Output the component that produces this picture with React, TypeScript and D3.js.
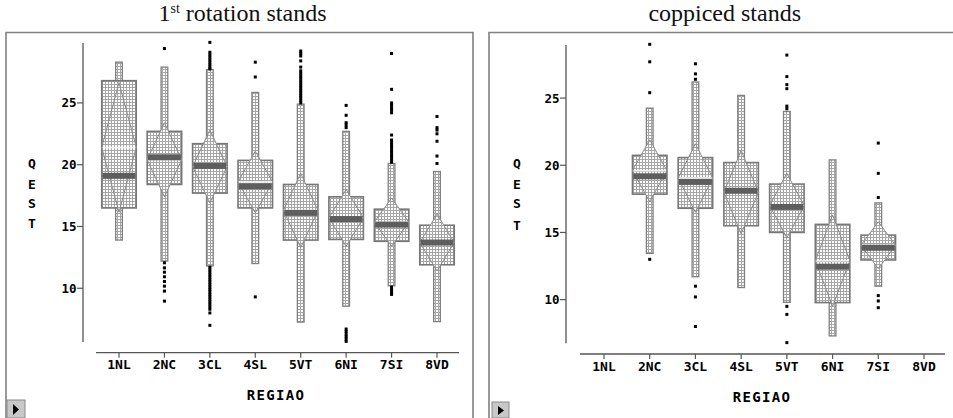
import React from "react";
import * as d3 from "d3";

// ---------- data ----------
const categories = ["1NL", "2NC", "3CL", "4SL", "5VT", "6NI", "7SI", "8VD"];
const yTicks = [10, 15, 20, 25];

// 1st rotation stands
const rotWhiskerLow = [13.9, 12.2, 11.8, 12.0, 7.26, 8.55, 10.2, 7.3];
const rotQ1 = [16.5, 18.4, 17.7, 16.5, 13.9, 13.95, 13.8, 11.9];
const rotMedian = [19.1, 20.6, 19.9, 18.25, 16.1, 15.6, 15.15, 13.7];
const rotQ3 = [26.8, 22.7, 21.7, 20.35, 18.4, 17.4, 16.4, 15.1];
const rotWhiskerHigh = [28.3, 27.9, 27.7, 25.85, 24.9, 22.7, 20.1, 19.45];
const rotMean = [21.4, 20.4, 19.85, 18.6, 16.3, 15.7, 15.35, 13.7];
const rotDiamondHalf = [5.25, 3.0, 2.95, 2.5, 3.0, 2.3, 1.95, 2.3];
const rotOutliers: number[][] = [
  [],
  [29.4, 12.06, 11.65, 11.3, 10.93, 10.55, 10.17, 9.77, 8.96],
  [29.9, 29.1, 28.9, 28.7, 28.5, 28.3, 28.1, 27.9, 27.75,
   11.7, 11.5, 11.3, 11.1, 10.9, 10.7, 10.5, 10.3, 10.1, 9.9, 9.7, 9.5, 9.3, 9.1, 8.9, 8.7, 8.5, 8.3, 8.0, 7.0],
  [28.3, 27.1, 9.3],
  [29.2, 29.0, 28.8, 28.4, 27.9, 27.6, 27.4, 27.2, 27.0, 26.8, 26.6, 26.4, 26.2, 26.0, 25.8, 25.6, 25.4, 25.2, 25.0],
  [24.8, 24.0, 23.4, 23.2, 23.0, 6.7, 6.5, 6.3, 6.1, 5.9, 5.7],
  [29.0, 26.1, 25.0, 24.8, 24.6, 24.4, 24.2, 22.4, 22.0, 21.8, 21.6, 21.4, 21.2, 21.0, 20.8, 20.6, 20.4, 20.2,
   10.1, 9.9, 9.7, 9.5],
  [23.9, 23.0, 22.8, 22.5, 21.9, 20.7, 20.1],
];

// coppiced stands
const copWhiskerLow = [null, 13.44, 11.7, 10.9, 9.8, 7.3, 11.0, null];
const copQ1 = [null, 17.85, 16.8, 15.5, 15.0, 9.78, 12.95, null];
const copMedian = [null, 19.18, 18.76, 18.1, 16.9, 12.45, 13.86, null];
const copQ3 = [null, 20.74, 20.57, 20.2, 18.6, 15.6, 14.8, null];
const copWhiskerHigh = [null, 24.25, 26.2, 25.2, 24.0, 20.4, 17.2, null];
const copMean = [null, 19.6, 19.05, 18.0, 17.0, 12.9, 14.05, null];
const copDiamondHalf = [null, 2.3, 2.55, 3.1, 2.4, 3.4, 1.75, null];
const copOutliers: number[][] = [
  [],
  [29.0, 27.7, 25.4, 13.0],
  [27.55, 26.8, 26.4, 11.0, 10.2, 8.0],
  [],
  [28.2, 26.6, 26.0, 25.7, 24.4, 24.2, 9.5, 8.9, 6.8],
  [],
  [21.65, 19.4, 17.6, 10.3, 9.9, 9.4],
  [],
];

const yLabel = ["Q", "E", "S", "T"];
const xTitle = "REGIAO";

// ---------- layout ----------
type Series = {
  lo: (number | null)[]; q1: (number | null)[]; med: (number | null)[]; q3: (number | null)[];
  hi: (number | null)[]; mean: (number | null)[]; half: (number | null)[]; out: number[][];
};

const panels = [
  {
    key: "rot",
    border: { x1: 6, x2: 473, y: 32.5 },
    yDomain: [5.65, 29.85], yRange: [342, 43],
    xRange: [119, 437], xAxis: { x1: 96, x2: 459, y: 352.7 },
    yAxisX: 83, qestX: 32, qestY: [163, 184, 203, 223],
    regiao: { x: 276, y: 400 }, xLabY: 369,
    button: { x: 7, y: 400, w: 18, h: 18 },
    data: { lo: rotWhiskerLow, q1: rotQ1, med: rotMedian, q3: rotQ3, hi: rotWhiskerHigh, mean: rotMean, half: rotDiamondHalf, out: rotOutliers } as Series,
  },
  {
    key: "cop",
    border: { x1: 489, x2: 970, y: 32.5 },
    yDomain: [6.75, 28.95], yRange: [343.3, 45],
    xRange: [604, 924], xAxis: { x1: 580, x2: 945, y: 354 },
    yAxisX: 566, qestX: 517, qestY: [163, 184, 203, 225],
    regiao: { x: 762, y: 401.5 }, xLabY: 370.5,
    button: { x: 492, y: 402, w: 17, h: 16 },
    data: { lo: copWhiskerLow, q1: copQ1, med: copMedian, q3: copQ3, hi: copWhiskerHigh, mean: copMean, half: copDiamondHalf, out: copOutliers } as Series,
  },
];

const MONO = "'DejaVu Sans Mono', monospace";
const BOX_W = 34.5;
const WH_W = 6.7;

function Panel({ p }: { p: (typeof panels)[number] }) {
  const x = d3.scalePoint<string>().domain(categories).range(p.xRange as [number, number]);
  const y = d3.scaleLinear().domain(p.yDomain).range(p.yRange);
  const d = p.data;
  return (
    <g>
      <path
        d={`M${p.border.x1},430 V${p.border.y} H${p.border.x2} V430`}
        fill="none" stroke="#808080" strokeWidth={1.6}
      />
      <line x1={p.yAxisX} x2={p.yAxisX} y1={p.yRange[1]} y2={p.yRange[0]} stroke="#555" strokeWidth={1.3} />
      {yTicks.map((t) => (
        <g key={t}>
          <line x1={p.yAxisX - 6} x2={p.yAxisX} y1={y(t)} y2={y(t)} stroke="#555" strokeWidth={1.2} />
          <text x={p.yAxisX - 6.5} y={y(t)} dy="0.36em" textAnchor="end" fontFamily={MONO} fontWeight="bold" fontSize={12.5} fill="#000">
            {t}
          </text>
        </g>
      ))}
      {yLabel.map((c, i) => (
        <text key={c} x={p.qestX} y={p.qestY[i]} dy="0.36em" textAnchor="middle" fontFamily={MONO} fontWeight="bold" fontSize={13} fill="#000">
          {c}
        </text>
      ))}
      <line x1={p.xAxis.x1} x2={p.xAxis.x2} y1={p.xAxis.y} y2={p.xAxis.y} stroke="#555" strokeWidth={1.3} />
      {categories.map((c) => (
        <g key={c}>
          <line x1={x(c)} x2={x(c)} y1={p.xAxis.y} y2={p.xAxis.y + 5} stroke="#555" strokeWidth={1.2} />
          <text x={x(c)} y={p.xLabY} textAnchor="middle" fontFamily={MONO} fontWeight="bold" fontSize={13} fill="#000">
            {c}
          </text>
        </g>
      ))}
      <text x={p.regiao.x} y={p.regiao.y} textAnchor="middle" fontFamily={MONO} fontWeight="bold" fontSize={14} letterSpacing={1.3} fill="#000">
        {xTitle}
      </text>
      {categories.map((c, i) => {
        const cx = x(c)!;
        const out = d.out[i];
        if (d.q1[i] == null) return <g key={c} />;
        const lo = d.lo[i]!, q1 = d.q1[i]!, med = d.med[i]!, q3 = d.q3[i]!, hi = d.hi[i]!;
        const mean = d.mean[i]!, half = d.half[i]!;
        const dia = [
          [cx, y(mean + half)],
          [cx + BOX_W / 2, y(mean)],
          [cx, y(mean - half)],
          [cx - BOX_W / 2, y(mean)],
        ];
        return (
          <g key={c}>
            <rect x={cx - WH_W / 2} y={y(hi)} width={WH_W} height={y(lo) - y(hi)} fill="url(#stip)" stroke="#808080" strokeWidth={1.3} />
            <rect x={cx - BOX_W / 2} y={y(q3)} width={BOX_W} height={y(q1) - y(q3)} fill="url(#stip)" stroke="#777" strokeWidth={1.6} />
            <polygon points={dia.map((pt) => pt.join(",")).join(" ")} fill="url(#stip)" stroke="#8c8c8c" strokeWidth={1} />
            <line x1={cx - BOX_W / 2 + 1} x2={cx + BOX_W / 2 - 1} y1={y(mean)} y2={y(mean)} stroke="#f2f2f2" strokeWidth={1.5} />
            <rect x={cx - BOX_W / 2 + 0.8} y={y(med) - 3} width={BOX_W - 1.6} height={6} fill="#5e5e5e" />
            {out.map((v, k) => (
              <rect key={k} x={cx - 1.5} y={y(v) - 1.5} width={3} height={3} fill="#000" />
            ))}
          </g>
        );
      })}
      <rect x={p.button.x} y={p.button.y} width={p.button.w} height={p.button.h} fill="#c8c8c8" stroke="#8a8a8a" strokeWidth={1} />
      <polygon
        points={`${p.button.x + 6},${p.button.y + 4} ${p.button.x + 12},${p.button.y + p.button.h / 2 + 0.5} ${p.button.x + 6},${p.button.y + p.button.h - 3}`}
        fill="#000"
      />
    </g>
  );
}

export default function App() {
  return (
    <svg width={953} height={418} style={{ position: "absolute", left: 0, top: 0, background: "#fff" }}>
      <defs>
        <pattern id="stip" width={3} height={3} patternUnits="userSpaceOnUse">
          <rect width={3} height={3} fill="#ffffff" />
          <rect x={0} y={0} width={3} height={1} fill="#a6a6a6" />
          <rect x={0} y={0} width={1} height={3} fill="#a6a6a6" />
        </pattern>
      </defs>
      <rect width={953} height={418} fill="#fff" />
      <text x={242.5} y={21} textAnchor="middle" fontFamily="'Liberation Serif', serif" fontSize={24} fill="#111">
        1<tspan fontSize={14} dy={-8}>st</tspan>
        <tspan dy={8}> rotation stands</tspan>
      </text>
      <text x={724.7} y={21} textAnchor="middle" fontFamily="'Liberation Serif', serif" fontSize={24} fill="#111">
        coppiced stands
      </text>
      {panels.map((p) => (
        <Panel key={p.key} p={p} />
      ))}
    </svg>
  );
}
